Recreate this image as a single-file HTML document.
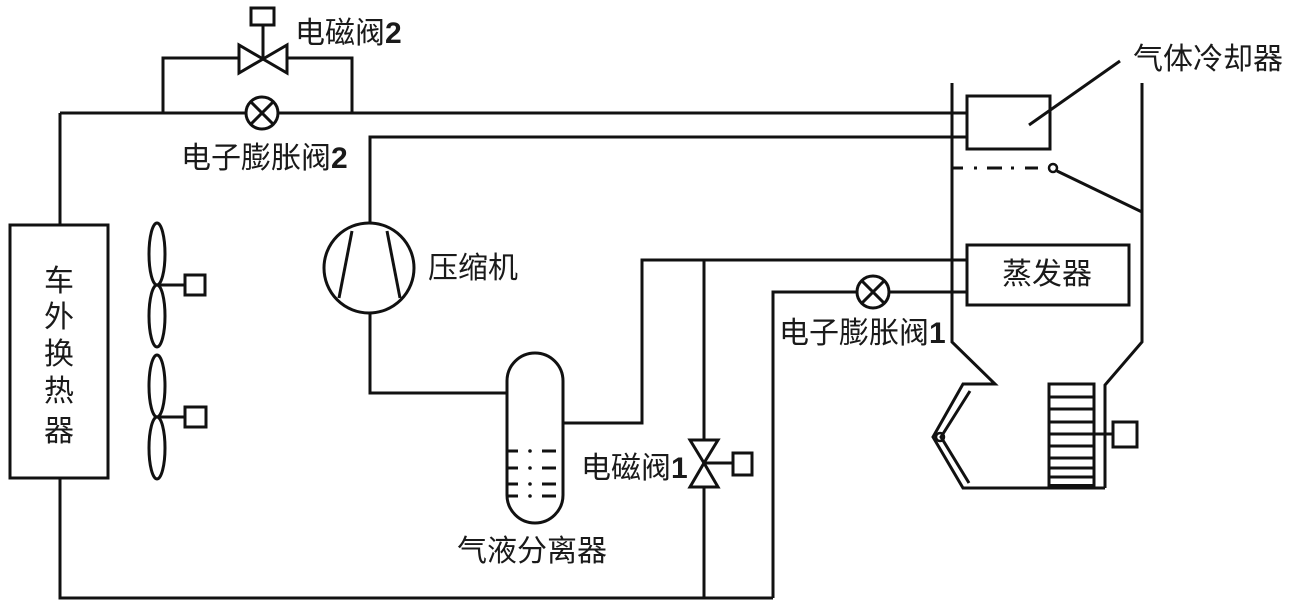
<!DOCTYPE html>
<html>
<head>
<meta charset="utf-8">
<style>
html,body{margin:0;padding:0;background:#fff;}
svg{display:block;}
text{font-family:"Liberation Sans","Noto Sans CJK SC","WenQuanYi Zen Hei",sans-serif;font-size:30px;fill:#1a1a1a;}
tspan.d{font-weight:bold;}
</style>
</head>
<body>
<svg width="1299" height="610" viewBox="0 0 1299 610" xmlns="http://www.w3.org/2000/svg">
<g fill="none" stroke="#111" stroke-width="3" stroke-linejoin="miter" stroke-linecap="butt">
  <!-- outdoor heat exchanger -->
  <rect x="10" y="225" width="98" height="253"/>
  <line x1="60" y1="113" x2="60" y2="225"/>
  <polyline points="60,478 60,598 773,598"/>
  <!-- top main line -->
  <line x1="60" y1="113" x2="246" y2="113"/>
  <line x1="278" y1="113" x2="967" y2="113"/>
  <!-- bypass -->
  <polyline points="163,113 163,58 239,58"/>
  <polyline points="287,58 352,58 352,113"/>
  <!-- solenoid valve 2 -->
  <polygon points="239,45 239,73 263,59"/>
  <polygon points="287,45 287,73 263,59"/>
  <line x1="263" y1="59" x2="263" y2="25"/>
  <rect x="251" y="8" width="23" height="17"/>
  <!-- EEV2 -->
  <circle cx="262" cy="113" r="16"/>
  <line x1="250.7" y1="101.7" x2="273.3" y2="124.3"/>
  <line x1="273.3" y1="101.7" x2="250.7" y2="124.3"/>
  <!-- second line to compressor -->
  <polyline points="967,137 370,137 370,223"/>
  <!-- compressor -->
  <circle cx="369" cy="268" r="45"/>
  <line x1="352" y1="231" x2="339" y2="298"/>
  <line x1="387" y1="231" x2="400" y2="298"/>
  <polyline points="370,313 370,393 507,393"/>
  <!-- separator -->
  <rect x="507" y="353" width="56" height="170" rx="28" ry="28"/>
  <polyline points="563,423 642,423 642,260 967,260"/>
  <!-- separator liquid marks -->
  <g stroke-width="3">
    <line x1="508" y1="451" x2="518" y2="451"/><line x1="542" y1="451" x2="556" y2="451"/>
    <line x1="508" y1="468" x2="518" y2="468"/><line x1="542" y1="468" x2="556" y2="468"/>
    <line x1="508" y1="484" x2="518" y2="484"/><line x1="542" y1="484" x2="556" y2="484"/>
    <line x1="508" y1="496" x2="518" y2="496"/><line x1="542" y1="496" x2="556" y2="496"/>
  </g>
  <!-- solenoid valve 1 branch -->
  <line x1="704" y1="260" x2="704" y2="440"/>
  <line x1="704" y1="487" x2="704" y2="598"/>
  <polygon points="690,440 718,440 704,463"/>
  <polygon points="690,487 718,487 704,463"/>
  <line x1="704" y1="463" x2="733" y2="463"/>
  <rect x="733" y="453" width="19" height="22"/>
  <!-- EEV1 branch -->
  <polyline points="773,598 773,292 857,292"/>
  <line x1="889" y1="292" x2="967" y2="292"/>
  <circle cx="873" cy="292" r="16"/>
  <line x1="861.7" y1="280.7" x2="884.3" y2="303.3"/>
  <line x1="884.3" y1="280.7" x2="861.7" y2="303.3"/>
  <!-- fans -->
  <ellipse cx="157" cy="254" rx="8" ry="31"/>
  <ellipse cx="157" cy="316" rx="8" ry="31"/>
  <line x1="157" y1="285" x2="185" y2="285"/>
  <rect x="185" y="275" width="20" height="20"/>
  <ellipse cx="157" cy="386" rx="8" ry="31"/>
  <ellipse cx="157" cy="448" rx="8" ry="31"/>
  <line x1="157" y1="417" x2="185" y2="417"/>
  <rect x="185" y="407" width="21" height="20"/>
  <!-- HVAC duct -->
  <polyline points="952,83 952,342 995,384 963,384 933,437 963,488 1105,488"/>
  <polyline points="970,391 941,437 969,483"/>
  <circle cx="940" cy="437" r="4" stroke-width="2.5"/>
  <polyline points="1142,83 1142,342 1105,385 1105,488"/>
  <!-- gas cooler -->
  <rect x="967" y="96" width="83" height="53"/>
  <line x1="1029" y1="125" x2="1120" y2="61"/>
  <!-- dash-dot door -->
  <line x1="953" y1="168" x2="963" y2="168"/>
  <line x1="974" y1="168" x2="977" y2="168"/>
  <line x1="987" y1="168" x2="1002" y2="168"/>
  <line x1="1011" y1="168" x2="1014" y2="168"/>
  <line x1="1025" y1="168" x2="1038" y2="168"/>
  <circle cx="1053" cy="168" r="4" stroke-width="2.5"/>
  <line x1="1057" y1="171" x2="1142" y2="212"/>
  <!-- evaporator -->
  <rect x="967" y="245" width="162" height="60"/>
  <!-- blower -->
  <rect x="1049" y="384" width="45" height="104"/>
  <line x1="1049" y1="397" x2="1094" y2="397"/>
  <line x1="1049" y1="409" x2="1094" y2="409"/>
  <line x1="1049" y1="422" x2="1094" y2="422"/>
  <line x1="1049" y1="434" x2="1094" y2="434"/>
  <line x1="1049" y1="446" x2="1094" y2="446"/>
  <line x1="1049" y1="458" x2="1094" y2="458"/>
  <line x1="1049" y1="468" x2="1094" y2="468"/>
  <line x1="1049" y1="477" x2="1094" y2="477"/>
  <line x1="1049" y1="486" x2="1094" y2="486" stroke-width="4"/>
  <line x1="1094" y1="434" x2="1113" y2="434"/>
  <rect x="1113" y="422" width="24" height="25"/>
</g>
<g fill="#111" stroke="none">
  <circle cx="530" cy="451" r="1.8"/>
  <circle cx="530" cy="468" r="1.8"/>
  <circle cx="530" cy="484" r="1.8"/>
  <circle cx="530" cy="496" r="1.8"/>
</g>
<!-- labels -->
<text x="295" y="43">电磁阀<tspan class="d">2</tspan></text>
<text x="181" y="168">电子膨胀阀<tspan class="d">2</tspan></text>
<text x="428" y="278">压缩机</text>
<text x="457" y="561">气液分离器</text>
<text x="581" y="478">电磁阀<tspan class="d">1</tspan></text>
<text x="779" y="343">电子膨胀阀<tspan class="d">1</tspan></text>
<text x="1133" y="69">气体冷却器</text>
<text x="1002" y="284">蒸发器</text>
<g text-anchor="middle">
  <text x="59" y="291">车</text>
  <text x="59" y="327">外</text>
  <text x="59" y="364">换</text>
  <text x="59" y="401">热</text>
  <text x="59" y="441">器</text>
</g>
</svg>
</body>
</html>
